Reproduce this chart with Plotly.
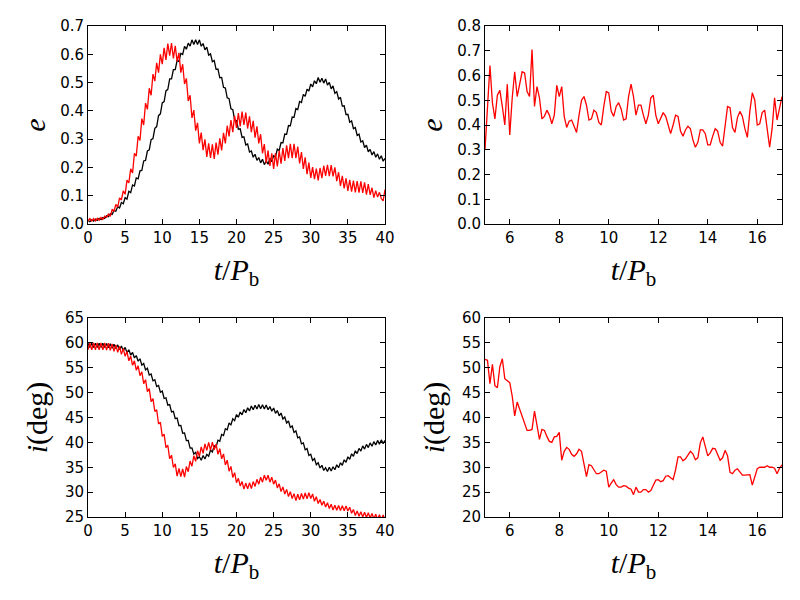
import numpy as np
import plotly.graph_objects as go

# ---- data ----
t_long = np.linspace(0, 40, 161)      # sampling grid, step 0.25 P_b
t_zoom = np.linspace(5, 17, 121)      # sampling grid, step 0.1 P_b

e_black = [
    .013,.008,.015,.010, .017,.0125,.020,.0155, .023,.020,.029,.026, .036,.034,.0475,.045,
    .061,.0565,.076,.0715, .093,.088,.1155,.111, .138,.1345,.163,.1595, .188,.1895,.223,.2245,
    .258,.262,.298,.302, .338,.3445,.383,.3895, .428,.433,.4705,.476, .513,.513,.5455,.546,
    .578,.5745,.603,.5995, .628,.618,.6395,.629, .651,.635,.651,.635, .651,.6285,.638,.6155,
    .625,.597,.6015,.574, .578,.547,.548,.517, .518,.483,.4805,.446, .443,.4075,.404,.3685,
    .365,.335,.3365,.306, .308,.2795,.283,.2545, .258,.236,.2465,.225, .235,.216,.229,.210,
    .223,.2115,.232,.2205, .241,.237,.2645,.260, .288,.287,.318,.317, .348,.347,.378,.377,
    .408,.4045,.433,.4295, .458,.451,.4765,.470, .495,.485,.5065,.496, .518,.501,.5155,.498,
    .513,.491,.5005,.478, .488,.462,.468,.442, .448,.417,.418,.387, .388,.360,.3645,.337,
    .341,.313,.3175,.290, .294,.2705,.279,.2555, .264,.244,.256,.236, .248,.229,.2415,.222,
    .232]

e_red = [
    .011,.019,.011,.019, .011,.020,.0135,.023, .016,.028,.0235,.035, .027,.052,.0445,.069,
    .060,.0925,.085,.1175, .105,.155,.145,.195, .180,.250,.240,.310, .295,.3725,.350,.4275,
    .405,.480,.455,.530, .505,.570,.535,.600, .565,.6225,.580,.6375, .595,.640,.585,.630,
    .575,.605,.535,.565, .495,.515,.435,.455, .375,.4025,.330,.3575, .285,.323,.261,.299,
    .237,.285,.2335,.282, .230,.2875,.245,.3025, .260,.3225,.285,.3475, .310,.3675,.325,.3825,
    .340,.3925,.345,.3975, .350,.394,.3375,.381, .325,.365,.305,.345, .285,.3175,.250,.2825,
    .215,.260,.205,.250, .195,.2495,.204,.2585, .213,.268,.223,.278, .233,.283,.233,.283,
    .233,.2735,.214,.2545, .195,.236,.1765,.217, .163,.201,.1585,.196, .154,.198,.162,.206,
    .170,.2095,.169,.2085, .168,.200,.1515,.183, .135,.1705,.126,.1615, .117,.156,.1145,.153,
    .112,.1515,.111,.1505, .110,.147,.104,.141, .103,.128,.093,.118, .095,.112,.090,.082,
    .122]

inc_black = [
    59.9,59.1,59.9,59.1, 59.9,59.1,59.9,59.1, 59.9,59.07,59.85,59.02, 59.8,58.95,59.7,58.85,
    59.6,58.67,59.35,58.42, 59.1,58.05,58.6,57.55, 58.1,56.97,57.45,56.32, 56.8,55.52,55.85,54.57,
    54.9,53.52,53.75,52.37, 52.6,51.22,51.45,50.07, 50.3,48.82,48.95,47.47, 47.6,46.12,46.25,44.77,
    44.9,43.35,43.4,41.85, 41.9,40.35,40.4,38.85, 38.9,37.65,38.0,36.75, 37.1,36.42,37.35,36.67,
    37.6,37.22,38.45,38.07, 39.3,39.07,40.45,40.22, 41.6,41.37,42.75,42.52, 43.9,43.52,44.75,44.37,
    45.6,45.05,46.1,45.55, 46.6,45.97,46.95,46.32, 47.3,46.57,47.45,46.72, 47.6,46.77,47.55,46.72,
    47.5,46.55,47.2,46.25, 46.9,45.85,46.4,45.35, 45.9,44.7,45.1,43.9, 44.3,43.0,43.3,42.0,
    42.3,40.9,41.1,39.7, 39.9,38.52,38.75,37.37, 37.6,36.37,36.75,35.52, 35.9,34.85,35.4,34.35,
    34.9,34.15,35.0,34.25, 35.1,34.5,35.5,34.9, 35.9,35.4,36.5,36.0, 37.1,36.6,37.7,37.2,
    38.3,37.75,38.8,38.25, 39.3,38.65,39.6,38.95, 39.9,39.22,40.15,39.47, 40.4,39.65,40.5,39.75,
    40.4]

inc_red = [
    58.6,60.0,58.6,60.0, 58.6,60.0,58.6,60.0, 58.6,59.97,58.55,59.92, 58.5,59.8,58.3,59.6,
    58.1,59.3,57.7,58.9, 57.3,58.25,56.4,57.35, 55.5,56.4,54.5,55.4, 53.4,54.2,51.8,52.6,
    50.2,50.8,48.2,48.8, 46.2,46.55,43.7,44.05, 41.2,41.67,38.95,39.42, 36.7,37.42,34.95,35.67,
    33.2,34.75,33.1,34.65, 33.0,35.15,34.1,36.25, 35.2,37.3,36.2,38.3, 37.2,39.1,37.8,39.7,
    38.4,40.02,38.45,40.07, 38.5,39.65,37.6,38.75, 36.7,37.67,35.45,36.42, 34.2,35.17,32.95,33.92,
    31.9,32.77,31.25,32.12, 30.6,31.82,30.65,31.87, 30.7,32.12,31.15,32.57, 31.6,33.0,32.0,33.4,
    32.4,33.4,32.0,33.0, 31.6,32.42,30.85,31.67, 30.1,31.05,29.6,30.55, 29.1,30.1,28.7,29.7,
    28.3,29.57,28.45,29.72, 28.6,29.82,28.65,29.87, 28.7,29.62,28.15,29.07, 27.7,28.52,27.35,28.17,
    27.0,27.85,26.7,27.55, 26.4,27.37,26.35,27.32, 26.3,27.27,26.25,27.22, 26.2,26.97,25.75,26.52,
    25.3,26.22,25.15,26.07, 25.0,25.95,24.9,25.85, 24.8,25.72,24.65,25.57, 24.5,25.47,24.45,25.42,
    24.4]

e_zoom = [
    0.30,0.47,0.64,0.49,0.425,0.52,0.54,0.475,0.40,0.565,
    0.36,0.51,0.615,0.515,0.565,0.615,0.61,0.535,0.515,0.705,
    0.475,0.555,0.51,0.425,0.435,0.46,0.44,0.405,0.44,0.56,
    0.515,0.555,0.435,0.39,0.415,0.42,0.395,0.37,0.44,0.50,
    0.515,0.48,0.42,0.425,0.46,0.45,0.41,0.40,0.475,0.535,
    0.53,0.455,0.435,0.475,0.49,0.465,0.42,0.425,0.515,0.565,
    0.515,0.44,0.48,0.48,0.44,0.405,0.44,0.51,0.52,0.44,
    0.405,0.425,0.45,0.435,0.395,0.365,0.40,0.44,0.435,0.375,
    0.355,0.38,0.395,0.385,0.34,0.31,0.33,0.38,0.38,0.365,
    0.32,0.32,0.355,0.385,0.375,0.33,0.315,0.39,0.475,0.47,
    0.39,0.37,0.43,0.455,0.435,0.385,0.35,0.455,0.53,0.50,
    0.40,0.405,0.45,0.46,0.385,0.31,0.385,0.51,0.42,0.465,
    0.515]

inc_zoom = [
    51.7,51.5,46.8,50.7,46.4,46.0,50.2,51.8,47.8,47.4,
    47.0,44.3,40.3,43.1,41.7,39.9,38.6,37.4,37.4,37.6,
    41.3,38.8,35.6,37.6,37.4,36.2,35.2,35.0,36.1,36.2,
    37.0,31.4,33.2,34.0,33.6,32.6,32.2,32.7,33.6,33.2,
    30.9,28.1,30.5,30.3,29.5,28.7,28.7,29.1,29.4,29.2,
    26.0,26.8,27.5,26.5,26.0,26.0,26.3,26.2,25.8,25.6,
    24.5,26.0,25.0,25.0,25.5,25.5,25.0,25.3,26.5,27.4,
    27.5,27.1,27.3,28.2,28.3,27.9,27.5,29.5,32.1,32.1,
    31.3,31.7,32.6,33.2,32.7,31.5,31.9,34.9,36.1,33.9,
    32.3,32.9,33.8,33.7,32.6,31.4,31.9,33.4,32.3,29.0,
    28.7,29.4,29.7,29.0,28.4,28.4,28.5,28.5,26.4,27.9,
    29.7,30.0,30.0,30.0,30.3,30.0,30.0,29.8,28.7,29.8,
    30.5]

# ---- figure ----
fig = go.Figure()
LW = 1.3
fig.add_trace(go.Scatter(x=t_long, y=e_black, mode="lines", line=dict(color="black", width=LW), xaxis="x", yaxis="y"))
fig.add_trace(go.Scatter(x=t_long, y=e_red, mode="lines", line=dict(color="#ff0000", width=LW), xaxis="x", yaxis="y"))
fig.add_trace(go.Scatter(x=t_zoom, y=e_zoom, mode="lines", line=dict(color="#ff0000", width=LW), xaxis="x2", yaxis="y2"))
fig.add_trace(go.Scatter(x=t_long, y=inc_black, mode="lines", line=dict(color="black", width=LW), xaxis="x3", yaxis="y3"))
fig.add_trace(go.Scatter(x=t_long, y=inc_red, mode="lines", line=dict(color="#ff0000", width=LW), xaxis="x3", yaxis="y3"))
fig.add_trace(go.Scatter(x=t_zoom, y=inc_zoom, mode="lines", line=dict(color="#ff0000", width=LW), xaxis="x4", yaxis="y4"))

W, H = 800, 600
OFF = 8   # the page places the figure 8 px from the top-left corner
def px_x(a, b):
    return [(a - OFF) / W, (b - OFF) / W]
def px_y(top, bottom):
    return [1 - (bottom - OFF) / H, 1 - (top - OFF) / H]

serif = "Liberation Serif, Times New Roman, serif"
tick_font = dict(family="DejaVu Sans", size=15, color="black")
title_font = dict(family=serif, size=30, color="black")
xtitle = "<i>t</i>/<i>P</i><sub>b</sub>"

common = dict(showline=True, linecolor="black", linewidth=1, mirror="ticks",
              ticks="inside", ticklen=5, tickwidth=1, tickcolor="black", automargin=False,
              showgrid=False, zeroline=False, tickfont=tick_font, title_font=title_font)

fig.update_layout(
    width=W, height=H, showlegend=False,
    paper_bgcolor="white", plot_bgcolor="white",
    margin=dict(l=0, r=0, t=0, b=0),
    xaxis=dict(domain=px_x(88, 385), range=[0, 40], dtick=5, tick0=0, anchor="y",
               title=dict(text=xtitle, standoff=12), **common),
    yaxis=dict(domain=px_y(26, 224), range=[0, 0.7], dtick=0.1, tick0=0, tickformat=".1f", anchor="x",
               title=dict(text="<i>e</i>", standoff=5), **common),
    xaxis2=dict(domain=px_x(485, 782), range=[5, 17], dtick=2, tick0=0, anchor="y2",
                title=dict(text=xtitle, standoff=12), **common),
    yaxis2=dict(domain=px_y(26, 224), range=[0, 0.8], dtick=0.1, tick0=0, tickformat=".1f", anchor="x2",
                title=dict(text="<i>e</i>", standoff=5), **common),
    xaxis3=dict(domain=px_x(88, 385), range=[0, 40], dtick=5, tick0=0, anchor="y3",
                title=dict(text=xtitle, standoff=12), **common),
    yaxis3=dict(domain=px_y(318, 517), range=[25, 65], dtick=5, tick0=0, anchor="x3",
                title=dict(text="<i>i</i>(deg)", standoff=8), **common),
    xaxis4=dict(domain=px_x(485, 782), range=[5, 17], dtick=2, tick0=0, anchor="y4",
                title=dict(text=xtitle, standoff=12), **common),
    yaxis4=dict(domain=px_y(318, 517), range=[20, 60], dtick=5, tick0=0, anchor="x4",
                title=dict(text="<i>i</i>(deg)", standoff=8), **common),
)

fig.write_html("out.html")
